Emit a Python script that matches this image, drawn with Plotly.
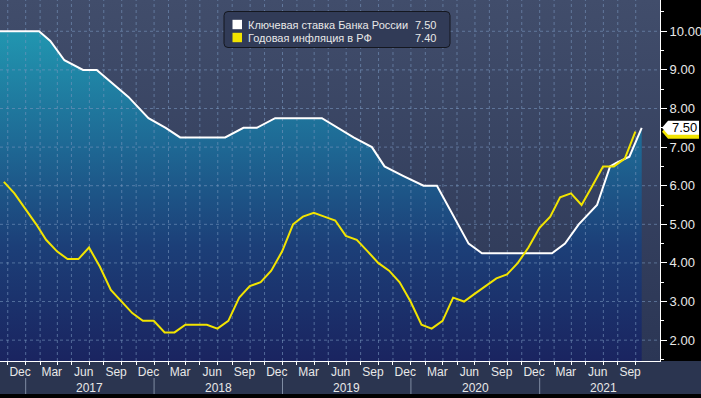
import plotly.graph_objects as go
import pandas as pd

# ---------------- data ----------------
rate_dates = ["2016-10-20", "2017-02-08", "2017-03-12", "2017-04-21", "2017-06-13", "2017-07-22",
              "2017-10-20", "2017-12-16", "2018-02-03", "2018-03-16", "2018-07-22", "2018-09-12",
              "2018-10-20", "2018-12-11", "2019-04-23", "2019-06-09", "2019-07-22", "2019-09-12",
              "2019-10-18", "2019-12-11", "2020-02-06", "2020-03-15", "2020-06-13", "2020-07-21",
              "2021-02-05", "2021-03-14", "2021-04-22", "2021-06-13", "2021-07-20", "2021-08-08",
              "2021-09-13", "2021-10-18"]
rate_values = [10.0, 10.0, 9.75, 9.25, 9.0, 9.0,
               8.3, 7.75, 7.5, 7.25, 7.25, 7.5,
               7.5, 7.75, 7.75, 7.5, 7.25, 7.0,
               6.5, 6.25, 6.0, 6.0, 4.5, 4.25,
               4.25, 4.5, 5.0, 5.5, 6.5, 6.6,
               6.75, 7.5]

infl_dates = pd.date_range("2016-10-31", periods=60, freq="ME")
infl_values = [6.1, 5.8, 5.4,
               5.0, 4.6, 4.3, 4.1, 4.1, 4.4, 3.9, 3.3, 3.0, 2.7, 2.5, 2.5,
               2.2, 2.2, 2.4, 2.4, 2.4, 2.3, 2.5, 3.1, 3.4, 3.5, 3.8, 4.3,
               5.0, 5.2, 5.3, 5.2, 5.1, 4.7, 4.6, 4.3, 4.0, 3.8, 3.5, 3.0,
               2.4, 2.3, 2.5, 3.1, 3.0, 3.2, 3.4, 3.6, 3.7, 4.0, 4.4, 4.9,
               5.2, 5.7, 5.8, 5.5, 6.0, 6.5, 6.5, 6.7, 7.4]

month_tick_dates = ["2016-12-16", "2017-03-16", "2017-06-15", "2017-09-15", "2017-12-16",
                    "2018-03-16", "2018-06-15", "2018-09-15", "2018-12-16",
                    "2019-03-16", "2019-06-15", "2019-09-15", "2019-12-16",
                    "2020-03-16", "2020-06-15", "2020-09-15", "2020-12-16",
                    "2021-03-16", "2021-06-15", "2021-09-15"]
month_tick_labels = ["Dec", "Mar", "Jun", "Sep"] * 5
years = [2017, 2018, 2019, 2020, 2021]
y_ticks = [2, 3, 4, 5, 6, 7, 8, 9, 10]

legend_names = ["Ключевая ставка Банка России", "Годовая инфляция в РФ"]
legend_values = ["7.50", "7.40"]

# ---------------- styling ----------------
X_RANGE = ["2016-10-20", "2021-12-09"]
Y_MIN, Y_MAX = 1.46, 10.81
FONT = "Liberation Sans, Arial, sans-serif"
TXT = "#e8e8e8"
GRID = "rgba(120,150,190,0.6)"
WHITE = "#ffffff"
YELLOW = "#f2e400"
W, H = 701, 398
ML, MR, MT, MB = 0, 41, 0, 37
PW, PH = W - ML - MR, H - MT - MB

grid_dates = ["2016-11-11"]
for y in range(2017, 2022):
    for md in ["01-01", "02-11", "04-01", "05-11", "07-01", "08-11", "10-01", "11-11"]:
        d = f"{y}-{md}"
        if d <= "2021-10-01":
            grid_dates.append(d)

def px_x(p):  # pixel -> paper x
    return p / PW

def px_y(p):  # pixel from top -> paper y
    return 1 - p / PH

# dash geometry (3 px on, 3 px off) converted to axis units
t0, t1 = pd.Timestamp(X_RANGE[0]), pd.Timestamp(X_RANGE[1])
sec_per_px = (t1 - t0).total_seconds() / PW
dash_dx = pd.Timedelta(seconds=3 * sec_per_px)
val_per_px = (Y_MAX - Y_MIN) / PH
dash_dy = 3 * val_per_px

fig = go.Figure()

# background gradient of the plot area
fig.add_trace(go.Scatter(
    x=X_RANGE, y=[Y_MAX, Y_MAX], fill="tozeroy", mode="none",
    fillgradient=dict(type="vertical", start=Y_MIN, stop=Y_MAX,
                      colorscale=[[0, "#2b3655"], [1, "#414d6b"]]),
    hoverinfo="skip", showlegend=False))
# area below key rate
fig.add_trace(go.Scatter(
    x=rate_dates, y=rate_values, fill="tozeroy", mode="none",
    fillgradient=dict(type="vertical", start=Y_MIN, stop=10.0,
                      colorscale=[[0, "#1a2460"], [0.35, "#1c3f78"],
                                  [0.65, "#1e6894"], [1, "#2196b0"]]),
    hoverinfo="skip", showlegend=False))

# dashed grid built from short solid segments (above the fills)
gx, gy = [], []
for d in grid_dates:
    ts = pd.Timestamp(d)
    y = Y_MIN
    while y < Y_MAX:
        gx += [ts, ts, None]
        gy += [y, min(y + dash_dy, Y_MAX), None]
        y += 2 * dash_dy
for v in y_ticks:
    t = t0
    while t < t1:
        gx += [t, min(t + dash_dx, t1), None]
        gy += [v, v, None]
        t += 2 * dash_dx
fig.add_trace(go.Scatter(x=gx, y=gy, mode="lines",
                         line=dict(color=GRID, width=1),
                         hoverinfo="skip", showlegend=False))

# series lines
fig.add_trace(go.Scatter(x=rate_dates, y=rate_values, mode="lines",
                         line=dict(color=WHITE, width=2),
                         name=legend_names[0], showlegend=False))
fig.add_trace(go.Scatter(x=infl_dates, y=infl_values, mode="lines",
                         line=dict(color=YELLOW, width=2),
                         name=legend_names[1], showlegend=False))

shapes = []
annotations = []

# bottom axis band
shapes.append(dict(type="rect", xref="paper", yref="paper", x0=0, x1=W / PW,
                   y0=-(394 - PH) / PH, y1=0, fillcolor="#2b3550", line_width=0, layer="below"))
# year separators + labels
for yr in years:
    shapes.append(dict(type="line", xref="x", yref="paper", x0=f"{yr}-01-01", x1=f"{yr}-01-01",
                       y0=-(378 - PH) / PH, y1=-(394 - PH) / PH,
                       line=dict(color="#7f8ca3", width=1)))
    annotations.append(dict(xref="x", yref="paper", x=f"{yr}-07-02", y=-(388 - PH) / PH,
                            text=str(yr), showarrow=False, yanchor="middle",
                            font=dict(family=FONT, size=12, color=TXT)))

# legend box
x0, x1, y0, y1 = 224, 450, 11.5, 47.5
r = 4
path = (f"M {px_x(x0 + r)},{px_y(y0)} L {px_x(x1 - r)},{px_y(y0)} "
        f"Q {px_x(x1)},{px_y(y0)} {px_x(x1)},{px_y(y0 + r)} "
        f"L {px_x(x1)},{px_y(y1 - r)} Q {px_x(x1)},{px_y(y1)} {px_x(x1 - r)},{px_y(y1)} "
        f"L {px_x(x0 + r)},{px_y(y1)} Q {px_x(x0)},{px_y(y1)} {px_x(x0)},{px_y(y1 - r)} "
        f"L {px_x(x0)},{px_y(y0 + r)} Q {px_x(x0)},{px_y(y0)} {px_x(x0 + r)},{px_y(y0)} Z")
shapes.append(dict(type="path", xref="paper", yref="paper", path=path,
                   fillcolor="#313b57", line=dict(color="#14171f", width=1)))
for i, (nm, val, col) in enumerate(zip(legend_names, legend_values, [WHITE, YELLOW])):
    cy = 24.5 + i * 13
    shapes.append(dict(type="rect", xref="paper", yref="paper",
                       x0=px_x(232.5), x1=px_x(242), y0=px_y(cy - 4.7), y1=px_y(cy + 4.7),
                       fillcolor=col, line_width=0))
    annotations.append(dict(xref="paper", yref="paper", x=px_x(246), y=px_y(cy),
                            text=nm, showarrow=False, xanchor="left", yanchor="middle",
                            font=dict(family=FONT, size=11, color=TXT)))
    annotations.append(dict(xref="paper", yref="paper", x=px_x(438), y=px_y(cy),
                            text=val, showarrow=False, xanchor="right", yanchor="middle",
                            font=dict(family=FONT, size=11, color=TXT)))

# last-value tags on right axis
def tag(v, color):
    h = 7 / (PH / (Y_MAX - Y_MIN))
    xt, xl, xr = px_x(662), px_x(668), px_x(699)
    return dict(type="path", xref="paper", yref="y",
                path=f"M {xt},{v} L {xl},{v + h} L {xr},{v + h} L {xr},{v - h} L {xl},{v - h} Z",
                fillcolor=color, line_width=0)

shapes.append(tag(infl_values[-1], YELLOW))
shapes.append(tag(rate_values[-1], WHITE))
annotations.append(dict(xref="paper", yref="y", x=px_x(684), y=rate_values[-1],
                        text=f"{rate_values[-1]:.2f}", showarrow=False,
                        xanchor="center", yanchor="middle",
                        font=dict(family=FONT, size=13, color="#000000")))

fig.update_layout(
    width=W, height=H,
    margin=dict(l=ML, r=MR, t=MT, b=MB, autoexpand=False),
    paper_bgcolor="#000000", plot_bgcolor="#000000",
    font=dict(family=FONT, color=TXT),
    showlegend=False,
    xaxis=dict(type="date", range=X_RANGE,
               tickmode="array", tickvals=month_tick_dates, ticktext=month_tick_labels,
               ticks="", showgrid=False, zeroline=False,
               showline=True, linecolor=WHITE, linewidth=1,
               tickfont=dict(family=FONT, size=12, color=TXT),
               minor=dict(tickmode="array", tickvals=grid_dates, ticks="outside", ticklen=3,
                          tickcolor=WHITE, showgrid=False)),
    yaxis=dict(side="right", range=[Y_MIN, Y_MAX],
               tickmode="array", tickvals=y_ticks, ticktext=[f"{v:.2f}" for v in y_ticks],
               ticks="outside", ticklen=6, tickwidth=1, tickcolor=WHITE,
               showline=True, linecolor=WHITE, linewidth=1, zeroline=False,
               showgrid=False,
               tickfont=dict(family=FONT, size=13, color=TXT),
               minor=dict(tick0=0, dtick=0.5, ticks="outside", ticklen=3,
                          tickcolor=WHITE, showgrid=False)),
    shapes=shapes, annotations=annotations,
)

fig.write_html("out.html", config={"displayModeBar": False},
               post_script="document.body.style.margin='0';")
